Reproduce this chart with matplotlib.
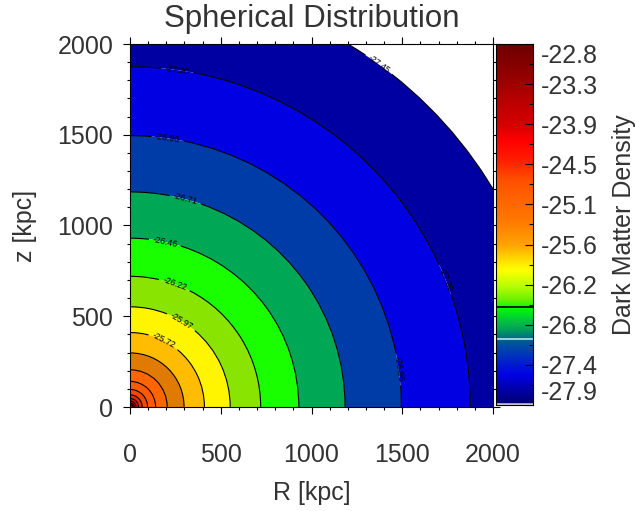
import numpy as np
import matplotlib
matplotlib.use('Agg')
import matplotlib.pyplot as plt
from matplotlib.patches import Wedge, Arc
from matplotlib.colors import LinearSegmentedColormap
from matplotlib.ticker import MultipleLocator, FixedLocator

plt.rcParams['font.family'] = ['Liberation Sans', 'DejaVu Sans']

# log10 dark matter density at each contour level, and the radius [kpc]
# where the spherical profile crosses that level
levels = [-27.45, -27.20, -26.96, -26.71, -26.46, -26.22, -25.97, -25.72,
          -25.48, -25.23, -24.98, -24.74, -24.49, -24.24, -24.00, -23.75, -23.50]
radii = [2333, 1875, 1495, 1185, 930, 720, 552, 410,
         298, 205, 141, 97, 67, 47, 33, 23, 15]

# contour labels: level value and polar angle [deg] of the label
label_levels = [-27.45, -27.20, -27.20, -26.96, -26.96, -26.71, -26.46, -26.22, -25.97, -25.72]
label_angles = [54, 82, 22, 82, 8, 75, 78, 70, 59, 63]

# colour bar range and tick labels
dens_min, dens_max = -27.94, -22.77
cbar_labels = ['-27.9', '-27.4', '-26.8', '-26.2', '-25.6',
               '-25.1', '-24.5', '-23.9', '-23.3', '-22.8']

# fill colour of the band just inside each level (outermost first), then the core
band_colors = ['#0000a2', '#0000e2', '#003ca8', '#00a855', '#19ff00', '#88e400',
               '#fff500', '#ffbc00', '#e07a00', '#ff6600', '#ff5a00', '#f54600',
               '#e82800', '#d81400', '#c80000', '#b40000', '#960000']

# colour bar gradient, bottom (0) to top (1)
cbar_nodes = [(0.000, '#00006e'), (0.042, '#0000aa'), (0.083, '#0000e6'),
              (0.125, '#0028c8'), (0.175, '#005a96'), (0.208, '#00a05a'),
              (0.235, '#00c83c'), (0.269, '#00ff00'), (0.291, '#6ef000'),
              (0.332, '#beff00'), (0.374, '#ffff00'), (0.402, '#ffdc00'),
              (0.443, '#ffa500'), (0.512, '#ff7800'), (0.623, '#ff5000'),
              (0.679, '#ff1e00'), (0.734, '#ff0000'), (0.776, '#d70000'),
              (0.845, '#b90000'), (0.928, '#8c0000'), (1.000, '#6e0000')]
cbar_cmap = LinearSegmentedColormap.from_list('dm_rainbow', cbar_nodes)

txt = '#333333'

fig = plt.figure(figsize=(6.35, 5.11), dpi=100)
ax = fig.add_axes([130 / 635, 104 / 511, 363 / 635, 363 / 511])

# filled bands as quarter annuli
for i, r in enumerate(radii):
    r_in = radii[i + 1] if i + 1 < len(radii) else 0
    ax.add_patch(Wedge((0, 0), r, 0, 90, width=r - r_in,
                       facecolor=band_colors[i], edgecolor='none', zorder=1))

# contour lines with gaps where the labels sit
gap = 90.0
for lev, r in zip(levels, radii):
    cuts = sorted(a for l, a in zip(label_levels, label_angles) if l == lev)
    start = 0.0
    for a in cuts:
        half = np.degrees(gap / r)
        ax.add_patch(Arc((0, 0), 2 * r, 2 * r, theta1=start, theta2=a - half,
                         color='black', lw=0.8, zorder=2))
        start = a + half
    ax.add_patch(Arc((0, 0), 2 * r, 2 * r, theta1=start, theta2=90,
                     color='black', lw=0.8, zorder=2))

for lev, a in zip(label_levels, label_angles):
    r = radii[levels.index(lev)]
    t = np.radians(a)
    ax.text(r * np.cos(t), r * np.sin(t), '%.2f' % lev, fontsize=6.3,
            color='black', rotation=a - 90, rotation_mode='anchor',
            ha='center', va='center', zorder=3)

ax.set_xlim(0, 2000)
ax.set_ylim(0, 2000)
ax.xaxis.set_major_locator(MultipleLocator(500))
ax.xaxis.set_minor_locator(MultipleLocator(100))
ax.yaxis.set_major_locator(MultipleLocator(500))
ax.yaxis.set_minor_locator(MultipleLocator(100))
ax.tick_params(which='both', direction='out', top=True, right=True,
               color='black', width=0.8, labelsize=18, labelcolor=txt)
ax.tick_params(which='major', length=5)
ax.tick_params(which='minor', length=2.5)
ax.tick_params(axis='x', which='major', pad=21)
ax.tick_params(axis='y', which='major', pad=7)
for s in ax.spines.values():
    s.set_linewidth(0.8)

ax.set_xlabel('R [kpc]', fontsize=18, color=txt, labelpad=10)
ax.set_ylabel('z [kpc]', fontsize=18, color=txt, labelpad=15)
ax.set_title('Spherical Distribution', fontsize=22.5, color=txt, pad=12)

# colour bar
cax = fig.add_axes([496 / 635, 106 / 511, 37 / 635, 361 / 511])
cax.imshow(np.linspace(0, 1, 256)[:, None], aspect='auto', cmap=cbar_cmap,
           origin='lower', extent=[0, 1, dens_min, dens_max])
cax.axhline(-26.54, color='black', lw=1.2)
cax.axhline(-27.00, color='#b4e6e6', lw=1.2)
cax.axhline(-27.925, color='#d0d0d0', lw=1.8)
cax.set_xlim(0, 1)
cax.set_ylim(dens_min, dens_max)
cax.set_xticks([])
tick_vals = np.linspace(dens_min, dens_max, len(cbar_labels))
cax.yaxis.set_major_locator(FixedLocator(tick_vals))
cax.yaxis.set_minor_locator(FixedLocator((tick_vals[:-1] + tick_vals[1:]) / 2))
cax.set_yticklabels(cbar_labels)
cax.yaxis.tick_right()
cax.tick_params(which='both', direction='in', color='black', width=0.8,
                labelsize=18, labelcolor=txt, pad=6)
cax.tick_params(which='major', length=5.5)
cax.tick_params(which='minor', length=2.8)
labs = cax.get_yticklabels()
labs[0].set_va('bottom')
labs[-1].set_va('top')
cax.yaxis.set_label_position('right')
cax.set_ylabel('Dark Matter Density', fontsize=18, color=txt, labelpad=10)
for s in cax.spines.values():
    s.set_linewidth(0.8)

fig.savefig('out.png', dpi=100)
